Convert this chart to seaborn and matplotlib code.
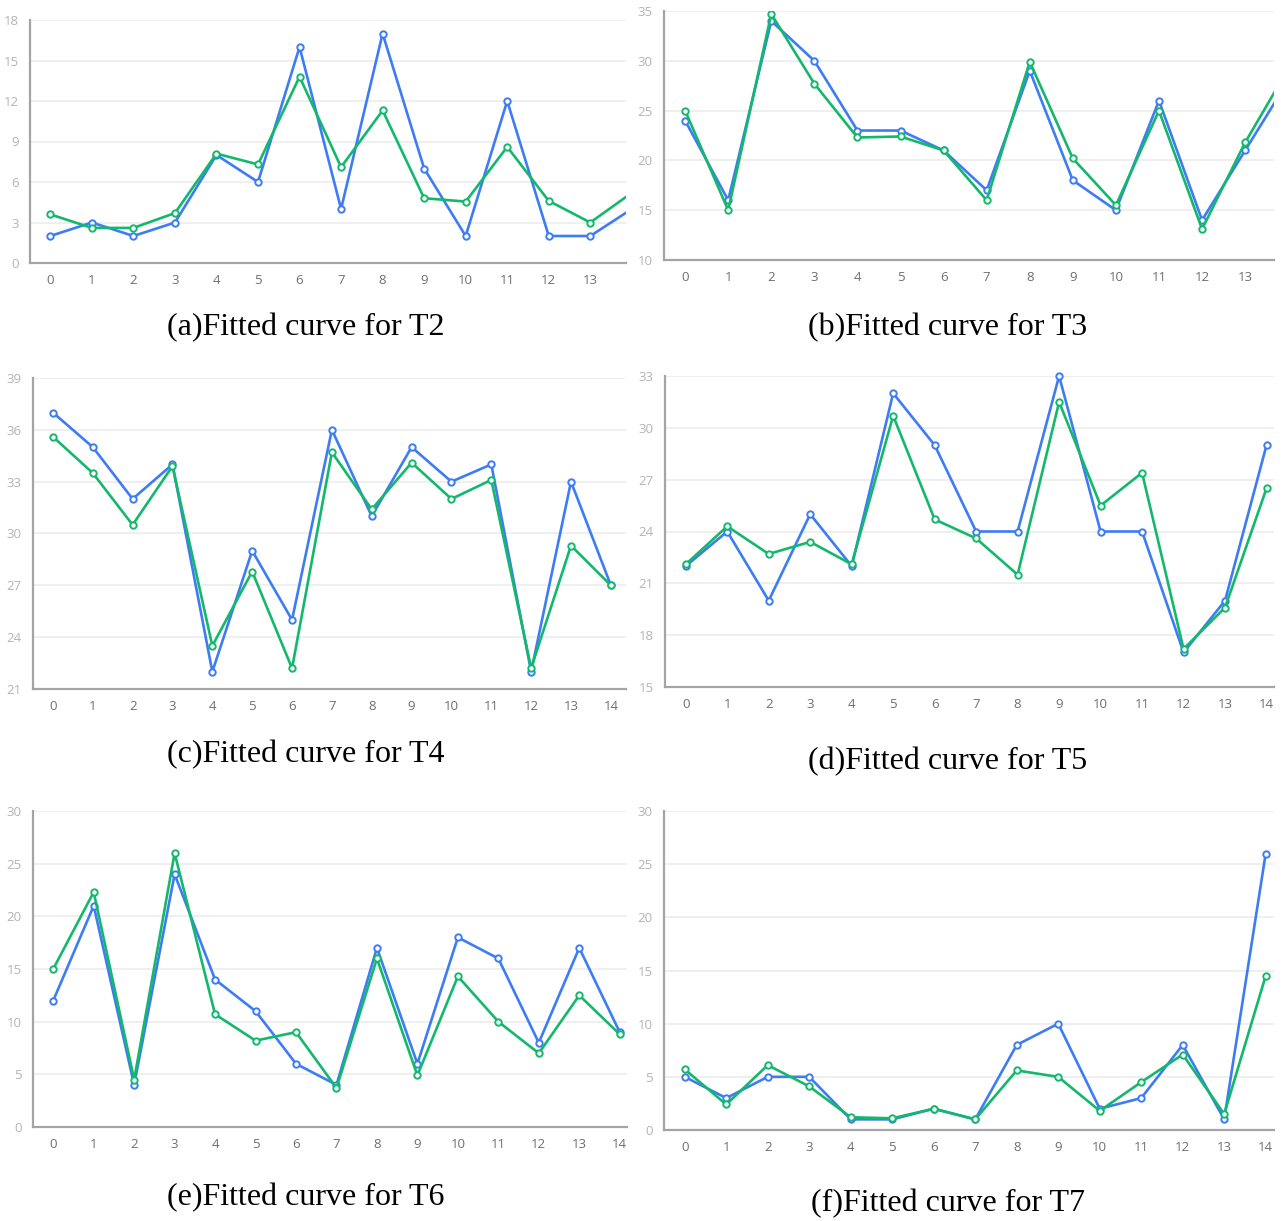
import numpy as np
import pandas as pd
import seaborn as sns
import matplotlib
matplotlib.use("Agg")
import matplotlib.pyplot as plt

# ---- data: actual vs fitted series for each station ----
idx = list(range(15))

t2_actual = [2, 3, 2, 3, 8, 6, 16, 4, 17, 7, 2, 12, 2, 2, 4]
t2_fitted = [3.6, 2.6, 2.6, 3.7, 8.1, 7.3, 13.8, 7.1, 11.3, 4.8, 4.55, 8.6, 4.6, 3.0, 5.2]

t3_actual = [24, 16, 34, 30, 23, 23, 21, 17, 29, 18, 15, 26, 14, 21, 28]
t3_fitted = [25, 15, 34.7, 27.7, 22.3, 22.4, 21.0, 16, 29.9, 20.2, 15.5, 25, 13.1, 21.8, 29.2]

t4_actual = [37, 35, 32, 34, 22, 29, 25, 36, 31, 35, 33, 34, 22, 33, 27]
t4_fitted = [35.6, 33.5, 30.5, 33.9, 23.5, 27.8, 22.2, 34.7, 31.4, 34.1, 32.0, 33.1, 22.2, 29.3, 27.0]

t5_actual = [22, 24, 20, 25, 22, 32, 29, 24, 24, 33, 24, 24, 17, 20, 29]
t5_fitted = [22.1, 24.3, 22.7, 23.4, 22.1, 30.7, 24.7, 23.6, 21.5, 31.5, 25.5, 27.4, 17.2, 19.6, 26.5]

t6_actual = [12, 21, 4, 24, 14, 11, 6, 4, 17, 6, 18, 16, 8, 17, 9]
t6_fitted = [15, 22.3, 4.5, 26, 10.7, 8.2, 9, 3.7, 16, 4.9, 14.3, 10, 7, 12.5, 8.8]

t7_actual = [5, 3, 5, 5, 1, 1, 2, 1, 8, 10, 2, 3, 8, 1, 26]
t7_fitted = [5.7, 2.4, 6.1, 4.1, 1.2, 1.1, 2.0, 1.0, 5.6, 5.0, 1.8, 4.5, 7.1, 1.5, 14.5]

captions = ["(a)Fitted curve for T2", "(b)Fitted curve for T3", "(c)Fitted curve for T4",
            "(d)Fitted curve for T5", "(e)Fitted curve for T6", "(f)Fitted curve for T7"]

BLUE = "#3d7cf5"
GREEN = "#14b86c"

W, H = 1286, 1221
sns.set_theme(style="white")
plt.rcParams["font.family"] = ["Open Sans", "DejaVu Sans"]
fig = plt.figure(figsize=(W / 100, H / 100), dpi=100)
fig.patch.set_facecolor("white")


def px_axes(left, top, right, bottom):
    return fig.add_axes([left / W, 1 - bottom / H, (right - left) / W, (bottom - top) / H])


panels = [
    # actual, fitted, box(px), xlim, yticks, caption position, clip
    (t2_actual, t2_fitted, (30, 20, 626, 263), (-0.49, 13.86), np.arange(0, 19, 3), (306, 328), True),
    (t3_actual, t3_fitted, (664, 11, 1274, 260), (-0.49, 13.67), np.arange(10, 36, 5), (948, 328), True),
    (t4_actual, t4_fitted, (33, 378, 626, 689), (-0.5, 14.38), np.arange(21, 40, 3), (306, 755), False),
    (t5_actual, t5_fitted, (665, 376, 1274, 687), (-0.5, 14.18), np.arange(15, 34, 3), (948, 762), False),
    (t6_actual, t6_fitted, (33, 811, 627, 1127), (-0.5, 14.18), np.arange(0, 31, 5), (306, 1198), False),
    (t7_actual, t7_fitted, (664, 811, 1274, 1130), (-0.5, 14.2), np.arange(0, 31, 5), (948, 1204), False),
]

for (actual, fitted, box, xlim, yticks, cap_pos, clip), cap in zip(panels, captions):
    ax = px_axes(*box)
    df = pd.DataFrame({"t": idx, "actual": actual, "fitted": fitted})
    for col, color in (("actual", BLUE), ("fitted", GREEN)):
        sns.lineplot(data=df, x="t", y=col, ax=ax, color=color, linewidth=1.9,
                     marker="o", markersize=4.6, markerfacecolor="white",
                     markeredgecolor=color, markeredgewidth=1.4, clip_on=clip)
    ax.set_xlim(*xlim)
    ax.set_ylim(yticks[0], yticks[-1])
    ax.set_yticks(yticks)
    ax.set_xticks([i for i in idx if i <= xlim[1]])
    ax.set_xlabel("")
    ax.set_ylabel("")
    ax.grid(axis="y", color="#ececec", linewidth=1.2)
    ax.set_axisbelow(True)
    for s in ("top", "right"):
        ax.spines[s].set_visible(False)
    for s in ("left", "bottom"):
        ax.spines[s].set_color("#a4a4a8")
        ax.spines[s].set_linewidth(1.6)
    ax.tick_params(axis="x", length=0, pad=8, labelsize=9.5, labelcolor="#6e6e72")
    ax.tick_params(axis="y", length=0, pad=8, labelsize=9.5, labelcolor="#b4b4b8")
    fig.text(cap_pos[0] / W, 1 - cap_pos[1] / H, cap, ha="center", va="center",
             fontsize=23, family=["Liberation Serif", "DejaVu Serif"], color="black")

fig.savefig("out.png", dpi=100, facecolor="white")
